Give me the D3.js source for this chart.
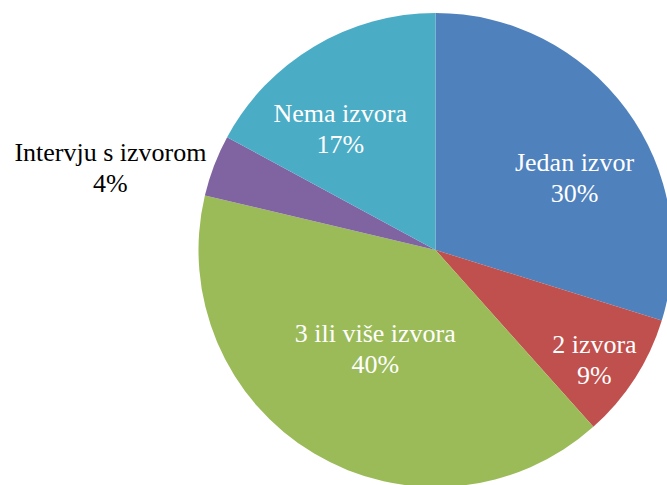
<!DOCTYPE html>
<html>
<head>
<meta charset="utf-8">
<script src="https://cdn.jsdelivr.net/npm/d3@7"></script>
<style>
  body { margin: 0; background: #fff; }
</style>
</head>
<body>
<svg id="chart" width="667" height="485"></svg>
<script>
'use strict';

var categories = ['Jedan izvor', '2 izvora', '3 ili više izvora', 'Intervju s izvorom', 'Nema izvora'];
var shares = [29.8, 8.6, 40.3, 4.2, 17.1];
var colors = ['#4F81BD', '#C0504D', '#9BBB59', '#8064A2', '#4BACC6'];

// label placement, as angle (deg from 12 o'clock) and distance from centre
var labelAngle = [63, 125, 211, 284, 321.5];
var labelDist = [156, 194, 117, 335, 153];

(function() {
  var cx = 435.5, cy = 250, radius = 237;

  var svg = d3.select('#chart');
  var g = svg.append('g').attr('transform', 'translate(' + cx + ',' + cy + ')');

  var data = categories.map(function(c, i) {
    return { name: c, value: shares[i], color: colors[i], i: i };
  });

  var pie = d3.pie()
    .sort(null)
    .value(function(d) { return d.value; });

  var arc = d3.arc().innerRadius(0).outerRadius(radius);

  var arcs = pie(data);

  g.selectAll('path.slice')
    .data(arcs)
    .enter().append('path')
    .attr('class', 'slice')
    .attr('d', arc)
    .attr('fill', function(d) { return d.data.color; });

  var labels = g.selectAll('text.lbl')
    .data(arcs)
    .enter().append('text')
    .attr('class', 'lbl')
    .style('font-family', "'Liberation Serif'")
    .style('font-size', '26px')
    .attr('text-anchor', 'middle')
    .attr('fill', function(d) { return d.data.i === 3 ? '#000' : '#fff'; })
    .attr('transform', function(d) {
      var a = labelAngle[d.data.i] * Math.PI / 180;
      var r = labelDist[d.data.i];
      return 'translate(' + (r * Math.sin(a)) + ',' + (-r * Math.cos(a)) + ')';
    });

  labels.append('tspan')
    .attr('x', 0)
    .attr('y', -8)
    .text(function(d) { return d.data.name; });

  labels.append('tspan')
    .attr('x', 0)
    .attr('y', 23)
    .text(function(d) { return d3.format('.0f')(d.data.value) + '%'; });
}());
</script>
</body>
</html>
